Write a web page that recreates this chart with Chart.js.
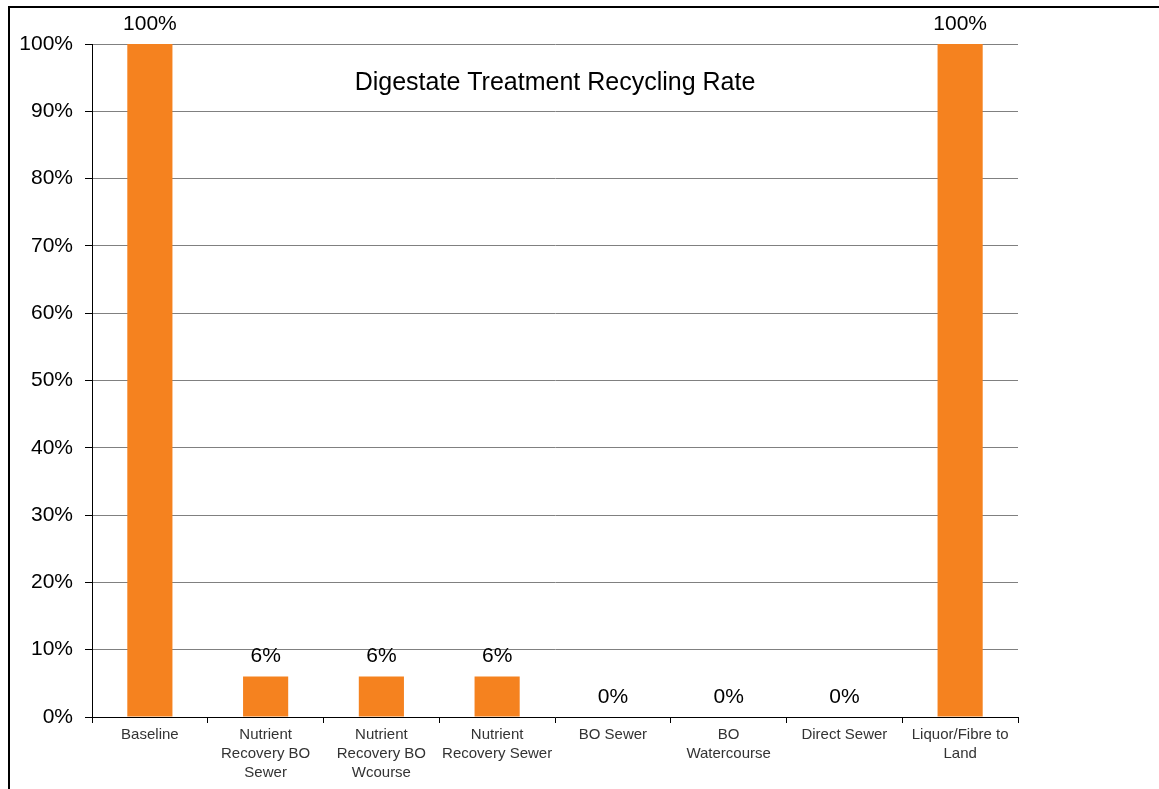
<!DOCTYPE html>
<html lang="en">
<head>
  <meta charset="UTF-8">
  <title>Digestate Treatment Recycling Rate</title>
  <script src="https://cdn.jsdelivr.net/npm/chart.js@4.4.0/dist/chart.umd.min.js"></script>
  <style>
    html, body {
      margin: 0;
      padding: 0;
      background: #fff;
    }
    .frame {
      position: absolute;
      left: 8px;
      top: 6px;
      width: 1160px;
      height: 800px;
      border-left: 2px solid #000;
      border-top: 2px solid #000;
    }
    .wrap {
      position: absolute;
      left: 0;
      top: 0;
      width: 1159px;
      height: 789px;
    }
  </style>
</head>
<body>

<div class="frame"></div>
<div class="wrap">
  <canvas id="chart"></canvas>
</div>

<script>
  // chart data
  const categories = [
    'Baseline',
    ['Nutrient', 'Recovery BO', 'Sewer'],
    ['Nutrient', 'Recovery BO', 'Wcourse'],
    ['Nutrient', 'Recovery Sewer'],
    'BO Sewer',
    ['BO', 'Watercourse'],
    'Direct Sewer',
    ['Liquor/Fibre to', 'Land']
  ];
  const recyclingRate = [100, 6, 6, 6, 0, 0, 0, 100];
  const chartTitle = 'Digestate Treatment Recycling Rate';

  const fontFamily = '"Liberation Sans", Arial, sans-serif';

  // value labels above each bar
  const valueLabels = {
    id: 'valueLabels',
    afterDatasetsDraw(chart) {
      const ctx = chart.ctx;
      const meta = chart.getDatasetMeta(0);
      ctx.save();
      ctx.font = '21px ' + fontFamily;
      ctx.fillStyle = '#000';
      ctx.textAlign = 'center';
      ctx.textBaseline = 'middle';
      meta.data.forEach((bar, i) => {
        ctx.fillText(recyclingRate[i] + '%', bar.x, bar.y - 20);
      });
      ctx.restore();
    }
  };

  // title sits inside the plot area
  const innerTitle = {
    id: 'innerTitle',
    afterDraw(chart) {
      const ctx = chart.ctx;
      const area = chart.chartArea;
      ctx.save();
      ctx.font = '25px ' + fontFamily;
      ctx.fillStyle = '#000';
      ctx.textAlign = 'center';
      ctx.textBaseline = 'middle';
      ctx.fillText(chartTitle, (area.left + area.right) / 2, area.top + 39);
      ctx.restore();
    }
  };

  new Chart(document.getElementById('chart'), {
    type: 'bar',
    data: {
      labels: categories,
      datasets: [{
        label: 'Recycling rate',
        data: recyclingRate,
        backgroundColor: '#f5821f',
        barPercentage: 0.39,
        categoryPercentage: 1
      }]
    },
    options: {
      responsive: true,
      maintainAspectRatio: false,
      animation: false,
      layout: {
        padding: { top: 44, right: 141, bottom: 0, left: 0 }
      },
      plugins: {
        legend: { display: false },
        tooltip: { enabled: false }
      },
      scales: {
        x: {
          offset: true,
          afterFit(scale) { scale.height = 72; },
          grid: {
            offset: true,
            drawOnChartArea: false,
            drawTicks: true,
            tickLength: 6,
            color: '#000'
          },
          border: { display: true, color: '#000', width: 1 },
          ticks: {
            color: '#333',
            padding: 2,
            maxRotation: 0,
            autoSkip: false,
            font: { family: fontFamily, size: 15, lineHeight: 1.27 }
          }
        },
        y: {
          min: 0,
          max: 100,
          afterFit(scale) { scale.width = 92; },
          grid: {
            color: '#808080',
            drawTicks: true,
            tickLength: 7,
            tickColor: '#000'
          },
          border: { display: true, color: '#000', width: 1 },
          ticks: {
            stepSize: 10,
            color: '#000',
            padding: 12,
            font: { family: fontFamily, size: 21 },
            callback: v => v + '%'
          }
        }
      }
    },
    plugins: [valueLabels, innerTitle]
  });
</script>

</body>
</html>
